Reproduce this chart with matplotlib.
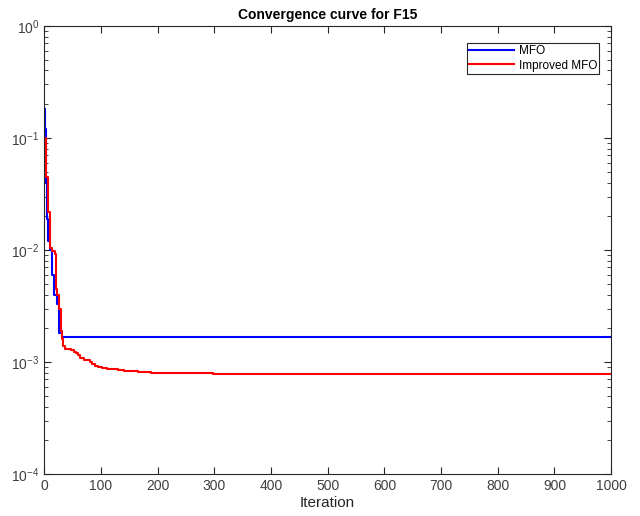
import matplotlib
matplotlib.use('Agg')
import matplotlib.pyplot as plt
from matplotlib.ticker import LogLocator, FixedLocator

plt.rcParams['font.family'] = ['Liberation Sans', 'DejaVu Sans']
plt.rcParams['axes.unicode_minus'] = False

# breakpoints of the best-so-far curves (step functions)
mfo_iter = [1, 2, 3, 4, 5, 7, 10, 14, 17, 22, 26, 31, 1000]
mfo_fit = [0.18, 0.12, 0.08, 0.04, 0.019, 0.012, 0.01, 0.006, 0.004, 0.0033,
           0.0018, 0.00166, 0.00166]

imfo_iter = [1, 4, 6, 7, 10, 13, 19, 21, 23, 26, 29, 31, 34, 37, 42, 48, 52,
             56, 59, 63, 70, 77, 80, 85, 90, 95, 102, 110, 120, 130, 140, 150,
             165, 189, 240, 297, 1000]
imfo_fit = [0.1, 0.045, 0.03, 0.022, 0.0105, 0.0097, 0.0093, 0.0045, 0.004,
            0.003, 0.0019, 0.0016, 0.0014, 0.00132, 0.0013, 0.00127, 0.00122,
            0.0012, 0.00115, 0.00108, 0.00105, 0.00104, 0.001, 0.00097,
            0.00093, 0.0009, 0.00088, 0.00087, 0.00086, 0.00085, 0.00084,
            0.00083, 0.00082, 0.0008, 0.000795, 0.00079, 0.00078]

x_ticks = list(range(0, 1001, 100))

fig = plt.figure(figsize=(6.4, 5.16), dpi=100)
ax = fig.add_axes([0.069, 0.081, 0.886, 0.869])

ax.semilogy(mfo_iter, mfo_fit, color='#0000ff', lw=1.5, drawstyle='steps-post', label='MFO')
ax.semilogy(imfo_iter, imfo_fit, color='#ff0000', lw=1.5, drawstyle='steps-post', label='Improved MFO')

ax.set_xlim(0, 1000)
ax.set_ylim(1e-4, 1)
ax.xaxis.set_major_locator(FixedLocator(x_ticks))
ax.yaxis.set_major_locator(LogLocator(base=10, numticks=10))
ax.yaxis.set_minor_locator(LogLocator(base=10, subs=range(2, 10), numticks=10))

ax.tick_params(which='both', direction='in', top=True, right=True,
               labelsize=10, colors='#262626', labelcolor='#404040')
ax.tick_params(which='major', length=5)
ax.tick_params(which='minor', length=3)
for s in ax.spines.values():
    s.set_color('#262626')
    s.set_linewidth(0.8)

ax.set_title('Convergence curve for F15', fontsize=10, fontweight='bold', pad=5)
ax.set_xlabel('Iteration', fontsize=11, color='#262626', labelpad=2)

leg = ax.legend(loc='upper right', fontsize=8.5, fancybox=False, framealpha=1,
                edgecolor='#262626', bbox_to_anchor=(0.979, 0.962), borderaxespad=0,
                handlelength=3.8, handletextpad=0.4, borderpad=0.2, labelspacing=0.2)
leg.get_frame().set_linewidth(0.8)

fig.savefig('out.png', dpi=100)
